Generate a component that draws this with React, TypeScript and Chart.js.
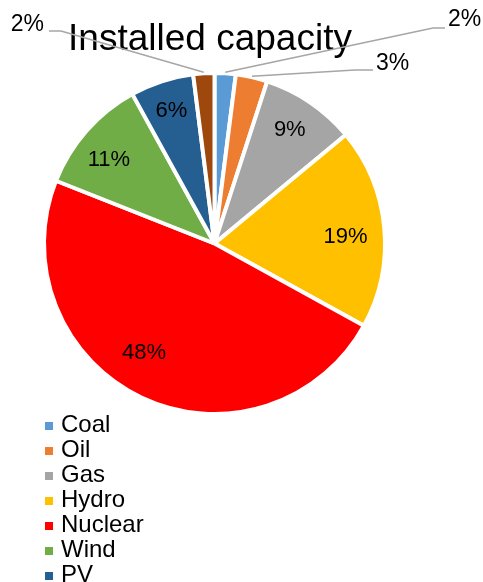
import { useEffect, useRef } from "react";
import { Chart, registerables } from "chart.js";

Chart.register(...registerables);

const chartTitle = "Installed capacity";
const categories = ["Coal", "Oil", "Gas", "Hydro", "Nuclear", "Wind", "PV", "Other"];
const shares = [2, 3, 9, 19, 48, 11, 6, 2];
const percentLabels = ["2%", "3%", "9%", "19%", "48%", "11%", "6%", "2%"];
const sliceColors = ["#5B9BD5", "#ED7D31", "#A5A5A5", "#FFC000", "#FF0000", "#70AD47", "#255E91", "#9E480E"];

const FONT = '"Liberation Sans", Arial, Helvetica, sans-serif';

// label placement (style, not data): radius factor and angle shift in degrees
const insideFactor = [0, 0, 0.8, 0.77, 0.763, 0.79, 0.82, 0];
const insideShiftDeg = [0, 0, -0.7, 2.5, 7.6, -3, 0, 0];
const outsideLabels: Record<number, { elbow: [number, number]; end: [number, number]; tx: number; ty: number; align: CanvasTextAlign }> = {
  0: { elbow: [433, 28], end: [445, 28], tx: 448, ty: 20, align: "left" },
  1: { elbow: [355, 70], end: [373, 70], tx: 376, ty: 64, align: "left" },
  7: { elbow: [61, 31], end: [49, 31], tx: 44, ty: 25, align: "right" },
};

const labelPlugin = {
  id: "customLabels",
  afterDraw(chart: any) {
    const ctx: CanvasRenderingContext2D = chart.ctx;
    const meta = chart.getDatasetMeta(0);
    ctx.save();
    // title
    ctx.fillStyle = "#000";
    ctx.font = `37px ${FONT}`;
    ctx.textAlign = "center";
    ctx.textBaseline = "alphabetic";
    ctx.fillText(chartTitle, 210, 50);

    ctx.textBaseline = "middle";
    meta.data.forEach((arc: any, i: number) => {
      const p = arc.getProps(["x", "y", "startAngle", "endAngle", "outerRadius"], true);
      const mid = (p.startAngle + p.endAngle) / 2;
      const o = outsideLabels[i];
      if (o) {
        const sx = p.x + Math.cos(mid) * (p.outerRadius + 1);
        const sy = p.y + Math.sin(mid) * (p.outerRadius + 1);
        ctx.strokeStyle = "#A6A6A6";
        ctx.lineWidth = 1.5;
        ctx.beginPath();
        ctx.moveTo(sx, sy);
        ctx.lineTo(o.elbow[0], o.elbow[1]);
        ctx.lineTo(o.end[0], o.end[1]);
        ctx.stroke();
        ctx.font = `23px ${FONT}`;
        ctx.fillStyle = "#000";
        ctx.textAlign = o.align;
        ctx.fillText(percentLabels[i], o.tx, o.ty);
      } else {
        const a = mid + (insideShiftDeg[i] * Math.PI) / 180;
        const r = p.outerRadius * insideFactor[i];
        ctx.font = `22px ${FONT}`;
        ctx.fillStyle = "#000";
        ctx.textAlign = "center";
        ctx.fillText(percentLabels[i], p.x + Math.cos(a) * r, p.y + Math.sin(a) * r);
      }
    });

    // legend
    ctx.font = `24px ${FONT}`;
    ctx.textAlign = "left";
    ctx.textBaseline = "middle";
    categories.forEach((c, i) => {
      const cy = 425 + i * 25;
      ctx.fillStyle = sliceColors[i];
      ctx.fillRect(45, cy - 3, 8, 8);
      ctx.fillStyle = "#000";
      ctx.fillText(c, 61, cy);
    });
    ctx.restore();
  },
};

export default function App() {
  const ref = useRef<HTMLCanvasElement>(null);
  useEffect(() => {
    if (!ref.current) return;
    const chart = new Chart(ref.current, {
      type: "pie",
      data: {
        labels: categories,
        datasets: [
          {
            data: shares,
            backgroundColor: sliceColors,
            borderColor: "#FFFFFF",
            borderWidth: 4,
          },
        ],
      },
      options: {
        responsive: false,
        animation: false,
        devicePixelRatio: 1,
        layout: { padding: { left: 42, right: 96, top: 71, bottom: 234 } },
        plugins: {
          legend: { display: false },
          tooltip: { enabled: false },
          title: { display: false },
        },
      },
      plugins: [labelPlugin],
    });
    return () => chart.destroy();
  }, []);
  return (
    <div style={{ position: "absolute", left: 0, top: 0, width: 483, height: 650, background: "#fff" }}>
      <canvas ref={ref} width={483} height={650} style={{ display: "block" }} />
    </div>
  );
}
